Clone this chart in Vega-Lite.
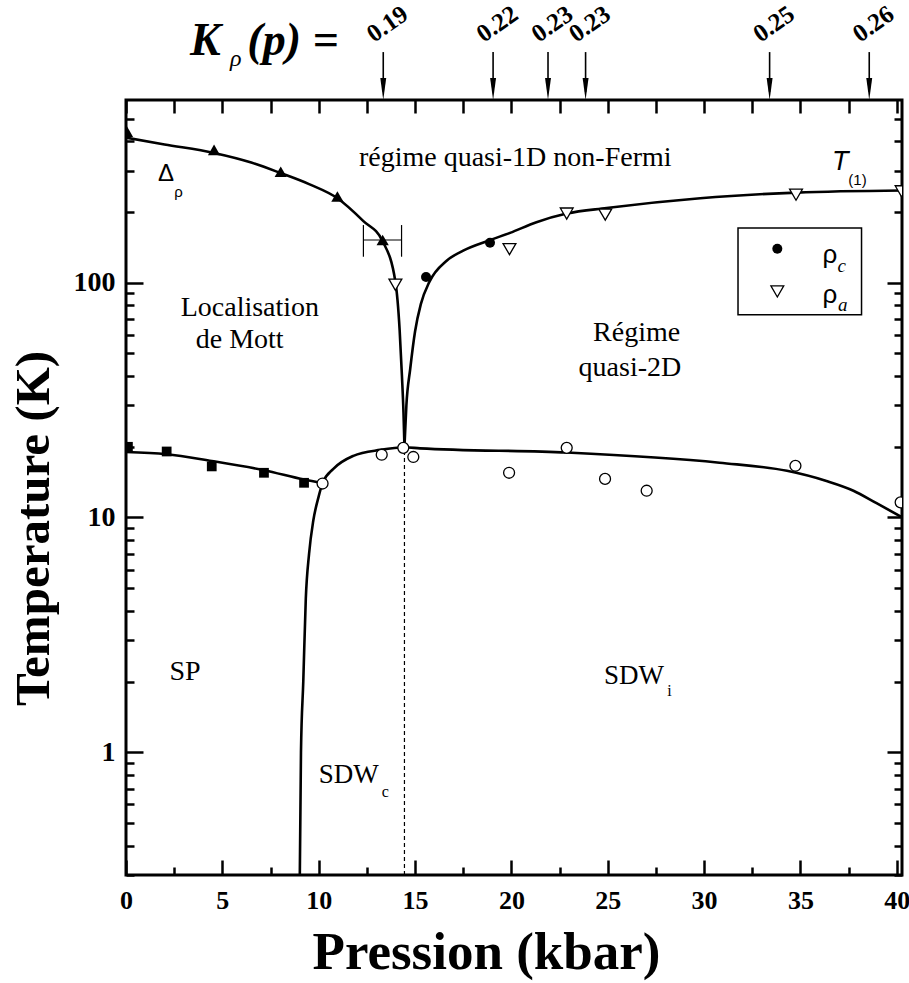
{
  "$schema": "https://vega.github.io/schema/vega-lite/v6.json",
  "width": 776,
  "height": 775,
  "autosize": {"type": "none"},
  "padding": {"left": 126, "top": 100, "right": 7, "bottom": 108},
  "background": "white",
  "config": {
    "view": {"stroke": "black", "strokeWidth": 3},
    "axis": {"grid": false, "domain": false, "ticks": true, "tickColor": "black", "tickWidth": 2.5, "labelColor": "black", "titleColor": "black", "labelFont": "Liberation Serif, Times New Roman, DejaVu Serif, serif", "titleFont": "Liberation Serif, Times New Roman, DejaVu Serif, serif", "labelFontWeight": "bold", "titleFontWeight": "bold", "labelFlush": false, "labelOverlap": false, "labelBound": false},
    "text": {"font": "Liberation Serif, Times New Roman, DejaVu Serif, serif", "color": "black"}
  },
  "resolve": {"axis": {"x": "independent", "y": "independent"}},
  "datasets": {
    "curves": [
      {"c": "delta", "p": 0, "T": 415}, {"c": "delta", "p": 2, "T": 388}, {"c": "delta", "p": 4.57, "T": 357}, {"c": "delta", "p": 6.5, "T": 325}, {"c": "delta", "p": 8.03, "T": 293}, {"c": "delta", "p": 9.5, "T": 263}, {"c": "delta", "p": 10.97, "T": 229}, {"c": "delta", "p": 12.32, "T": 183}, {"c": "delta", "p": 13.32, "T": 150}, {"c": "delta", "p": 13.98, "T": 101}, {"c": "delta", "p": 14.2, "T": 63}, {"c": "delta", "p": 14.32, "T": 40}, {"c": "delta", "p": 14.4, "T": 28}, {"c": "delta", "p": 14.45, "T": 20},
      {"c": "t1", "p": 14.45, "T": 20}, {"c": "t1", "p": 14.55, "T": 30}, {"c": "t1", "p": 14.75, "T": 43}, {"c": "t1", "p": 15.0, "T": 62}, {"c": "t1", "p": 15.3, "T": 81}, {"c": "t1", "p": 15.75, "T": 101}, {"c": "t1", "p": 16.64, "T": 124}, {"c": "t1", "p": 17.5, "T": 137}, {"c": "t1", "p": 18.9, "T": 152}, {"c": "t1", "p": 19.93, "T": 163}, {"c": "t1", "p": 21.3, "T": 181}, {"c": "t1", "p": 22.87, "T": 197}, {"c": "t1", "p": 24.94, "T": 208}, {"c": "t1", "p": 29.8, "T": 229}, {"c": "t1", "p": 34.8, "T": 242}, {"c": "t1", "p": 40.4, "T": 247},
      {"c": "sp", "p": 0, "T": 19.0}, {"c": "sp", "p": 2.1, "T": 18.6}, {"c": "sp", "p": 4.45, "T": 17.4}, {"c": "sp", "p": 7.16, "T": 15.9}, {"c": "sp", "p": 9.24, "T": 14.5}, {"c": "sp", "p": 10.2, "T": 14.0},
      {"c": "sdw", "p": 9.02, "T": 0.3}, {"c": "sdw", "p": 9.08, "T": 1.0}, {"c": "sdw", "p": 9.2, "T": 2.0}, {"c": "sdw", "p": 9.33, "T": 4.5}, {"c": "sdw", "p": 9.5, "T": 7.0}, {"c": "sdw", "p": 9.72, "T": 9.7}, {"c": "sdw", "p": 10.0, "T": 12.3}, {"c": "sdw", "p": 10.2, "T": 14.0}, {"c": "sdw", "p": 10.76, "T": 16.1}, {"c": "sdw", "p": 11.8, "T": 18.3}, {"c": "sdw", "p": 13.2, "T": 19.4}, {"c": "sdw", "p": 14.45, "T": 19.9}, {"c": "sdw", "p": 15.26, "T": 19.7}, {"c": "sdw", "p": 22.87, "T": 18.9}, {"c": "sdw", "p": 30.8, "T": 17.1}, {"c": "sdw", "p": 34.3, "T": 15.8}, {"c": "sdw", "p": 36.35, "T": 14.3}, {"c": "sdw", "p": 37.75, "T": 13.0}, {"c": "sdw", "p": 38.95, "T": 11.5}, {"c": "sdw", "p": 40.3, "T": 10.0}
    ],
    "tri": [{"p": 0.05, "T": 440}, {"p": 4.57, "T": 368}, {"p": 8.03, "T": 297}, {"p": 10.97, "T": 233}, {"p": 13.32, "T": 152}],
    "sq": [{"p": 0.1, "T": 20.0}, {"p": 2.11, "T": 19.1}, {"p": 4.45, "T": 16.5}, {"p": 7.16, "T": 15.5}, {"p": 9.24, "T": 14.05}],
    "oc": [{"p": 10.2, "T": 13.95}, {"p": 13.27, "T": 18.5}, {"p": 14.39, "T": 19.8}, {"p": 14.91, "T": 18.1}, {"p": 19.88, "T": 15.5}, {"p": 22.87, "T": 19.8}, {"p": 24.86, "T": 14.6}, {"p": 27.02, "T": 13.0}, {"p": 34.74, "T": 16.6}, {"p": 40.2, "T": 11.6}],
    "rhoc": [{"p": 15.57, "T": 105.7}, {"p": 18.89, "T": 148}],
    "rhoa": [{"p": 13.98, "T": 98}, {"p": 19.9, "T": 139}, {"p": 22.87, "T": 197}, {"p": 24.87, "T": 195}, {"p": 34.77, "T": 237}, {"p": 40.25, "T": 245}],
    "kp": [{"p": 13.35, "K": "0.19"}, {"p": 19.05, "K": "0.22"}, {"p": 21.9, "K": "0.23"}, {"p": 23.85, "K": "0.23"}, {"p": 33.4, "K": "0.25"}, {"p": 38.57, "K": "0.26"}]
  },
  "layer": [
    {
      "data": {"values": [{"p": 1, "T": 1}]},
      "mark": {"type": "point", "opacity": 0},
      "encoding": {
        "x": {"field": "p", "type": "quantitative", "scale": {"domain": [0, 40.27], "nice": false, "zero": false},
          "axis": {"orient": "bottom", "values": [0, 5, 10, 15, 20, 25, 30, 35, 40], "offset": -15, "tickSize": 15, "format": "d", "labelFontSize": 26, "labelPadding": 12, "title": "Pression (kbar)", "titleFontSize": 53, "titleX": 360, "titleY": 92, "titleBaseline": "middle", "titleAlign": "center"}},
        "y": {"field": "T", "type": "quantitative", "scale": {"type": "log", "domain": [0.3, 600], "nice": false},
          "axis": {"orient": "left", "values": [1, 10, 100], "offset": -17, "tickSize": 17, "format": "d", "labelFontSize": 28, "labelPadding": 11, "labelBaseline": "middle", "title": "Temperature (K)", "titleFontSize": 49, "titleX": -110, "titleY": 428, "titleAngle": -90, "titleAlign": "center", "titleBaseline": "middle"}}
      }
    },
    {
      "data": {"values": [{"p": 1, "T": 1}]},
      "mark": {"type": "point", "opacity": 0},
      "encoding": {
        "x": {"field": "p", "type": "quantitative", "scale": {"domain": [0, 40.27], "nice": false, "zero": false},
          "axis": {"orient": "bottom", "values": [2.5, 7.5, 12.5, 17.5, 22.5, 27.5, 32.5, 37.5], "offset": -8, "tickSize": 8, "labels": false, "title": null}},
        "y": {"field": "T", "type": "quantitative", "scale": {"type": "log", "domain": [0.3, 600], "nice": false},
          "axis": {"orient": "left", "values": [0.3, 0.4, 0.5, 0.6, 0.7, 0.8, 0.9, 2, 3, 4, 5, 6, 7, 8, 9, 20, 30, 40, 50, 60, 70, 80, 90, 200, 300, 400, 500], "offset": -8, "tickSize": 8, "labels": false, "title": null}}
      }
    },
    {
      "data": {"values": [{"p": 1, "T": 1}]},
      "mark": {"type": "point", "opacity": 0},
      "encoding": {
        "x": {"field": "p", "type": "quantitative", "scale": {"domain": [0, 40.27], "nice": false, "zero": false},
          "axis": {"orient": "top", "values": [0, 5, 10, 15, 20, 25, 30, 35, 40], "offset": -13, "tickSize": 13, "labels": false, "title": null}},
        "y": {"field": "T", "type": "quantitative", "scale": {"type": "log", "domain": [0.3, 600], "nice": false},
          "axis": {"orient": "right", "values": [1, 10, 100], "offset": -15, "tickSize": 15, "labels": false, "title": null}}
      }
    },
    {
      "data": {"values": [{"p": 1, "T": 1}]},
      "mark": {"type": "point", "opacity": 0},
      "encoding": {
        "x": {"field": "p", "type": "quantitative", "scale": {"domain": [0, 40.27], "nice": false, "zero": false},
          "axis": {"orient": "top", "values": [2.5, 7.5, 12.5, 17.5, 22.5, 27.5, 32.5, 37.5], "offset": -13, "tickSize": 13, "labels": false, "title": null}},
        "y": {"field": "T", "type": "quantitative", "scale": {"type": "log", "domain": [0.3, 600], "nice": false},
          "axis": {"orient": "right", "values": [0.3, 0.4, 0.5, 0.6, 0.7, 0.8, 0.9, 2, 3, 4, 5, 6, 7, 8, 9, 20, 30, 40, 50, 60, 70, 80, 90, 200, 300, 400, 500], "offset": -8, "tickSize": 8, "labels": false, "title": null}}
      }
    },
    {
      "data": {"values": [{"p": 14.45, "T0": 0.3, "T1": 19.8}]},
      "mark": {"type": "rule", "strokeDash": [4, 3], "strokeWidth": 1.2, "color": "black"},
      "encoding": {
        "x": {"field": "p", "type": "quantitative", "axis": null},
        "y": {"field": "T0", "type": "quantitative", "axis": null},
        "y2": {"field": "T1"}
      }
    },
    {
      "data": {"name": "curves"},
      "mark": {"type": "line", "interpolate": "monotone", "strokeWidth": 2.6, "color": "black", "clip": true},
      "encoding": {
        "x": {"field": "p", "type": "quantitative", "axis": null},
        "y": {"field": "T", "type": "quantitative", "axis": null},
        "detail": {"field": "c"}
      }
    },
    {
      "data": {"values": [{"p0": 12.32, "p1": 14.3, "T": 152}]},
      "mark": {"type": "rule", "strokeWidth": 1.2, "color": "black"},
      "encoding": {
        "x": {"field": "p0", "type": "quantitative", "axis": null},
        "x2": {"field": "p1"},
        "y": {"field": "T", "type": "quantitative", "axis": null}
      }
    },
    {
      "data": {"values": [{"p": 12.32, "T0": 129, "T1": 176}, {"p": 14.3, "T0": 129, "T1": 176}]},
      "mark": {"type": "rule", "strokeWidth": 1.2, "color": "black"},
      "encoding": {
        "x": {"field": "p", "type": "quantitative", "axis": null},
        "y": {"field": "T0", "type": "quantitative", "axis": null},
        "y2": {"field": "T1"}
      }
    },
    {
      "data": {"name": "tri"},
      "mark": {"type": "point", "shape": "triangle-up", "filled": true, "color": "black", "size": 150, "opacity": 1, "clip": true},
      "encoding": {
        "x": {"field": "p", "type": "quantitative", "axis": null},
        "y": {"field": "T", "type": "quantitative", "axis": null}
      }
    },
    {
      "data": {"name": "sq"},
      "mark": {"type": "point", "shape": "square", "filled": true, "color": "black", "size": 95, "opacity": 1, "clip": true},
      "encoding": {
        "x": {"field": "p", "type": "quantitative", "axis": null},
        "y": {"field": "T", "type": "quantitative", "axis": null}
      }
    },
    {
      "data": {"name": "oc"},
      "mark": {"type": "point", "shape": "circle", "fill": "white", "stroke": "black", "strokeWidth": 1.3, "size": 120, "opacity": 1, "fillOpacity": 1, "clip": true},
      "encoding": {
        "x": {"field": "p", "type": "quantitative", "axis": null},
        "y": {"field": "T", "type": "quantitative", "axis": null}
      }
    },
    {
      "data": {"name": "rhoc"},
      "mark": {"type": "point", "shape": "circle", "filled": true, "color": "black", "size": 100, "opacity": 1, "clip": true},
      "encoding": {
        "x": {"field": "p", "type": "quantitative", "axis": null},
        "y": {"field": "T", "type": "quantitative", "axis": null}
      }
    },
    {
      "data": {"name": "rhoa"},
      "mark": {"type": "point", "shape": "triangle-down", "fill": "white", "stroke": "black", "strokeWidth": 1.3, "size": 165, "opacity": 1, "fillOpacity": 1, "clip": true},
      "encoding": {
        "x": {"field": "p", "type": "quantitative", "axis": null},
        "y": {"field": "T", "type": "quantitative", "axis": null}
      }
    },
    {
      "data": {"values": [{"p0": 31.76, "p1": 38.17, "T0": 73.1, "T1": 171}]},
      "mark": {"type": "rect", "fill": null, "fillOpacity": 0, "stroke": "black", "strokeWidth": 1.5},
      "encoding": {
        "x": {"field": "p0", "type": "quantitative", "axis": null},
        "x2": {"field": "p1"},
        "y": {"field": "T0", "type": "quantitative", "axis": null},
        "y2": {"field": "T1"}
      }
    },
    {
      "data": {"values": [{"p": 33.8, "T": 139.5}]},
      "mark": {"type": "point", "shape": "circle", "filled": true, "color": "black", "size": 100, "opacity": 1},
      "encoding": {
        "x": {"field": "p", "type": "quantitative", "axis": null},
        "y": {"field": "T", "type": "quantitative", "axis": null}
      }
    },
    {
      "data": {"values": [{"p": 33.8, "T": 91.8}]},
      "mark": {"type": "point", "shape": "triangle-down", "fill": "white", "stroke": "black", "strokeWidth": 1.3, "size": 165, "opacity": 1, "fillOpacity": 1},
      "encoding": {
        "x": {"field": "p", "type": "quantitative", "axis": null},
        "y": {"field": "T", "type": "quantitative", "axis": null}
      }
    },
    {
      "data": {"values": [{"p": 36.53, "T": 131.6, "txt": "ρ"}, {"p": 36.53, "T": 88.9, "txt": "ρ"}]},
      "mark": {"type": "text", "font": "Liberation Sans, Arial, DejaVu Sans, sans-serif", "fontSize": 26, "align": "center", "baseline": "middle"},
      "encoding": {
        "x": {"field": "p", "type": "quantitative", "axis": null},
        "y": {"field": "T", "type": "quantitative", "axis": null},
        "text": {"field": "txt"}
      }
    },
    {
      "data": {"values": [{"p": 37.14, "T": 117.3, "txt": "c"}, {"p": 37.2, "T": 80.6, "txt": "a"}]},
      "mark": {"type": "text", "font": "Liberation Serif, Times New Roman, DejaVu Serif, serif", "fontStyle": "italic", "fontSize": 19, "align": "center", "baseline": "middle"},
      "encoding": {
        "x": {"field": "p", "type": "quantitative", "axis": null},
        "y": {"field": "T", "type": "quantitative", "axis": null},
        "text": {"field": "txt"}
      }
    },
    {
      "data": {"values": [
        {"p": 20.2, "T": 340, "txt": "régime quasi-1D non-Fermi"},
        {"p": 6.43, "T": 78.2, "txt": "Localisation"},
        {"p": 5.9, "T": 57.2, "txt": "de Mott"},
        {"p": 26.5, "T": 61.3, "txt": "Régime"},
        {"p": 26.15, "T": 43.5, "txt": "quasi-2D"},
        {"p": 3.06, "T": 2.19, "txt": "SP"}
      ]},
      "mark": {"type": "text", "font": "Liberation Serif, Times New Roman, DejaVu Serif, serif", "fontWeight": "normal", "fontSize": 28, "align": "center", "baseline": "middle"},
      "encoding": {
        "x": {"field": "p", "type": "quantitative", "axis": null},
        "y": {"field": "T", "type": "quantitative", "axis": null},
        "text": {"field": "txt"}
      }
    },
    {
      "data": {"values": [{"p": 10.0, "T": 0.797, "txt": "SDW"}, {"p": 24.8, "T": 2.12, "txt": "SDW"}]},
      "mark": {"type": "text", "font": "Liberation Serif, Times New Roman, DejaVu Serif, serif", "fontWeight": "normal", "fontSize": 27, "align": "left", "baseline": "middle"},
      "encoding": {
        "x": {"field": "p", "type": "quantitative", "axis": null},
        "y": {"field": "T", "type": "quantitative", "axis": null},
        "text": {"field": "txt"}
      }
    },
    {
      "data": {"values": [{"p": 13.45, "T": 0.68, "txt": "c"}, {"p": 28.2, "T": 1.83, "txt": "i"}]},
      "mark": {"type": "text", "font": "Liberation Serif, Times New Roman, DejaVu Serif, serif", "fontSize": 16, "align": "center", "baseline": "middle"},
      "encoding": {
        "x": {"field": "p", "type": "quantitative", "axis": null},
        "y": {"field": "T", "type": "quantitative", "axis": null},
        "text": {"field": "txt"}
      }
    },
    {
      "data": {"values": [{"p": 2.08, "T": 291, "txt": "Δ"}]},
      "mark": {"type": "text", "font": "Liberation Sans, Arial, DejaVu Sans, sans-serif", "fontSize": 24, "align": "center", "baseline": "middle"},
      "encoding": {
        "x": {"field": "p", "type": "quantitative", "axis": null},
        "y": {"field": "T", "type": "quantitative", "axis": null},
        "text": {"field": "txt"}
      }
    },
    {
      "data": {"values": [{"p": 2.72, "T": 243, "txt": "ρ"}, {"p": 37.96, "T": 274, "txt": "(1)"}]},
      "mark": {"type": "text", "font": "Liberation Sans, Arial, DejaVu Sans, sans-serif", "fontSize": 15, "align": "center", "baseline": "middle"},
      "encoding": {
        "x": {"field": "p", "type": "quantitative", "axis": null},
        "y": {"field": "T", "type": "quantitative", "axis": null},
        "text": {"field": "txt"}
      }
    },
    {
      "data": {"values": [{"p": 37.07, "T": 326, "txt": "T"}]},
      "mark": {"type": "text", "font": "Liberation Sans, Arial, DejaVu Sans, sans-serif", "fontStyle": "italic", "fontSize": 27, "align": "center", "baseline": "middle"},
      "encoding": {
        "x": {"field": "p", "type": "quantitative", "axis": null},
        "y": {"field": "T", "type": "quantitative", "axis": null},
        "text": {"field": "txt"}
      }
    },
    {
      "data": {"name": "kp"},
      "mark": {"type": "rule", "strokeWidth": 1.6, "color": "black"},
      "encoding": {
        "x": {"field": "p", "type": "quantitative", "axis": null},
        "y": {"datum": 960, "type": "quantitative", "axis": null},
        "y2": {"datum": 650}
      }
    },
    {
      "data": {"name": "kp"},
      "mark": {"type": "point", "shape": "M -0.27 -1 L 0.27 -1 L 0 1 Z", "filled": true, "color": "black", "size": 484, "opacity": 1},
      "encoding": {
        "x": {"field": "p", "type": "quantitative", "axis": null},
        "y": {"datum": 669, "type": "quantitative", "axis": null}
      }
    },
    {
      "data": {"name": "kp"},
      "mark": {"type": "text", "font": "Liberation Serif, Times New Roman, DejaVu Serif, serif", "fontWeight": "bold", "fontSize": 25, "angle": -35, "align": "center", "baseline": "middle", "dx": 5},
      "encoding": {
        "x": {"field": "p", "type": "quantitative", "axis": null},
        "y": {"datum": 1230, "type": "quantitative", "axis": null},
        "text": {"field": "K"}
      }
    },
    {
      "data": {"values": [{"p": 4.2, "T": 934, "txt": "K"}, {"p": 7.18, "T": 934, "txt": "(p) ="}]},
      "mark": {"type": "text", "font": "Liberation Serif, Times New Roman, DejaVu Serif, serif", "fontWeight": "bold", "fontStyle": "italic", "fontSize": 46, "align": "left", "baseline": "alphabetic", "dx": -17},
      "encoding": {
        "x": {"field": "p", "type": "quantitative", "axis": null},
        "y": {"field": "T", "type": "quantitative", "axis": null},
        "text": {"field": "txt"}
      }
    },
    {
      "data": {"values": [{"p": 5.7, "T": 900, "txt": "ρ"}]},
      "mark": {"type": "text", "font": "Liberation Serif, Times New Roman, DejaVu Serif, serif", "fontStyle": "italic", "fontSize": 24, "align": "center", "baseline": "middle"},
      "encoding": {
        "x": {"field": "p", "type": "quantitative", "axis": null},
        "y": {"field": "T", "type": "quantitative", "axis": null},
        "text": {"field": "txt"}
      }
    }
  ]
}
